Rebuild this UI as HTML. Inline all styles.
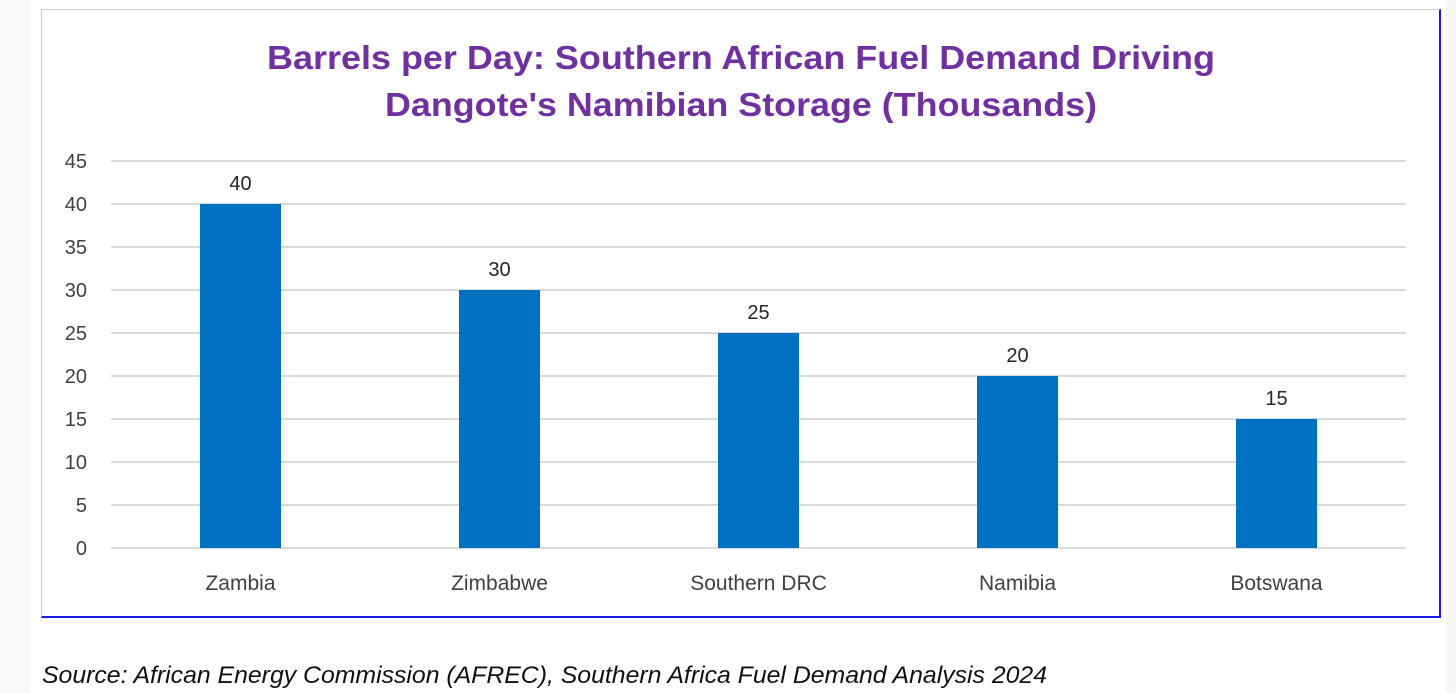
<!DOCTYPE html>
<html><head><meta charset="utf-8"><style>
body{margin:0;width:1456px;height:693px;background:#fff;position:relative;overflow:hidden;font-family:"Liberation Sans",sans-serif}
.ls{position:absolute;left:0;top:0;width:31px;height:693px;background:#f8f8f8}
.rs{position:absolute;left:1446px;top:0;width:10px;height:693px;background:#f6f6f6}
.frame{position:absolute;left:41px;top:9px;width:1397px;height:606px;border:1px solid #c8cde6;border-right:2px solid #1a1ae0;border-bottom:2px solid #1a1ae0;background:#fff}
</style></head><body>
<div class="ls"></div>
<div class="rs"></div>
<div class="frame"></div>
<svg id="chart" width="1456" height="693" style="position:absolute;left:0;top:0">
<text x="741" y="69" text-anchor="middle" font-size="33" font-weight="bold" fill="#7030a0" textLength="948" lengthAdjust="spacingAndGlyphs">Barrels per Day: Southern African Fuel Demand Driving</text>
<text x="741" y="116" text-anchor="middle" font-size="33" font-weight="bold" fill="#7030a0" textLength="712" lengthAdjust="spacingAndGlyphs">Dangote's Namibian Storage (Thousands)</text>
<text x="42" y="683" font-size="24" font-style="italic" fill="#111" textLength="1005" lengthAdjust="spacingAndGlyphs">Source: African Energy Commission (AFREC), Southern Africa Fuel Demand Analysis 2024</text>
</svg>
<script>
const categories=["Zambia","Zimbabwe","Southern DRC","Namibia","Botswana"];
const values=[40,30,25,20,15];
const ticks=[0,5,10,15,20,25,30,35,40,45];
const svg=document.getElementById('chart');
const NS='http://www.w3.org/2000/svg';
const x0=111,x1=1406,y0=548,ymax=45,yTop=161;
const y=v=>y0-(v/ymax)*(y0-yTop);
const band=(x1-x0)/categories.length;
const xc=i=>x0+band*(i+0.5);
function mk(t,a){const e=document.createElementNS(NS,t);for(const k in a)e.setAttribute(k,a[k]);svg.appendChild(e);return e;}
ticks.forEach(t=>{
 const l=mk('line',{x1:x0,x2:x1,y1:y(t),y2:y(t),stroke:'#d9d9d9','stroke-width':2});
 
 
 const tx=mk('text',{x:87,y:y(t)+7,'text-anchor':'end','font-size':20,fill:'#404040'});
 tx.textContent=t;
 
 
});
categories.forEach((c,i)=>{
 const bw=81;
 const r=mk('rect',{x:xc(i)-bw/2,y:y(values[i]),width:bw,height:y0-y(values[i]),fill:'#0070c0'});
 
 
 const v=mk('text',{x:xc(i),y:y(values[i])-14,'text-anchor':'middle','font-size':20,fill:'#262626'});
 v.textContent=values[i];
 
 
 const lb=mk('text',{x:xc(i),y:590,'text-anchor':'middle','font-size':21,fill:'#404040'});
 lb.textContent=c;
 
 
});
</script>
</body></html>
